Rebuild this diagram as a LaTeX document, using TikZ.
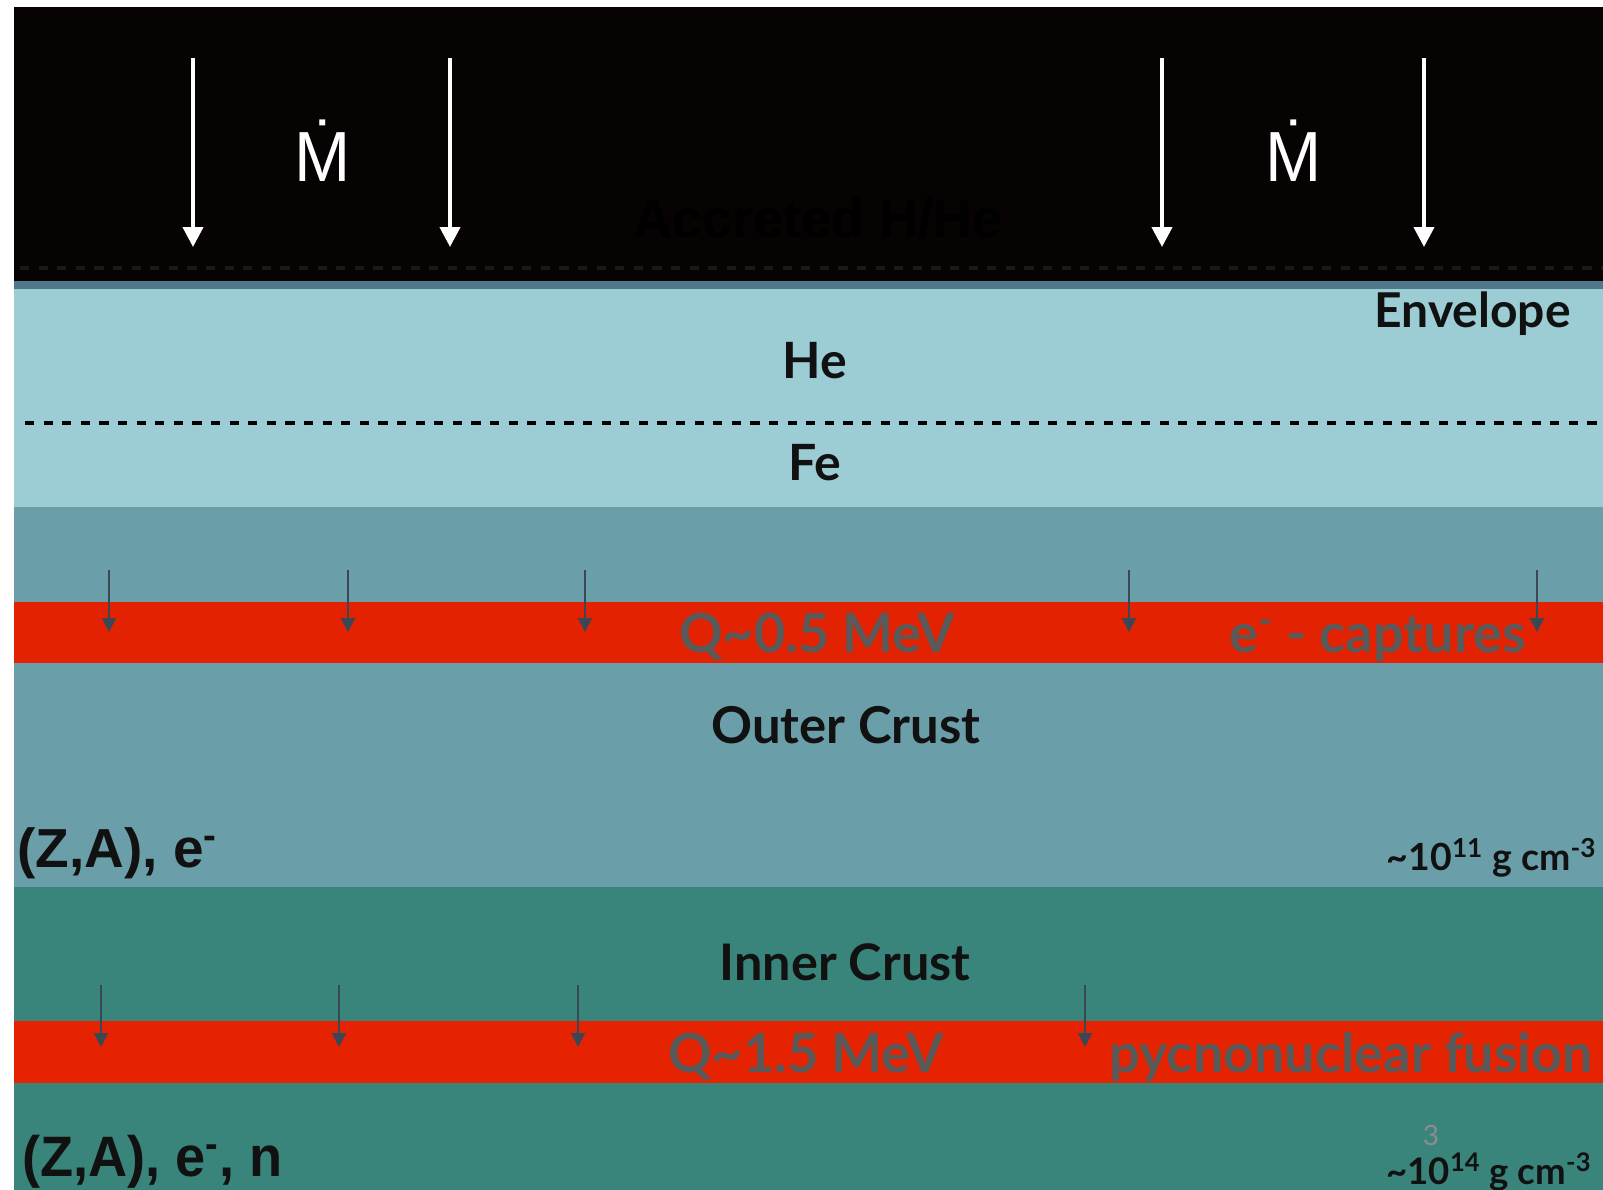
\documentclass[tikz,border=0pt]{standalone}
\usepackage{fontspec}
\setmainfont{Lato}
\newfontfamily\arialfont{Liberation Sans}
\usetikzlibrary{arrows.meta}

\definecolor{spaceblack}{RGB}{8,3,3}
\definecolor{accretedtext}{RGB}{0,0,0}
\definecolor{dotgray}{RGB}{26,24,24}
\definecolor{slatestripe}{RGB}{81,120,138}
\definecolor{envelopeblue}{RGB}{156,205,213}
\definecolor{outercrust}{RGB}{106,158,168}
\definecolor{innercrust}{RGB}{58,133,123}
\definecolor{heatred}{RGB}{226,34,0}
\definecolor{heatredlow}{RGB}{230,35,0}
\definecolor{arrowslate}{RGB}{58,72,85}
\definecolor{heattext}{RGB}{90,90,90}
\definecolor{labelblack}{RGB}{17,17,17}
\definecolor{pagegray}{RGB}{140,140,140}

\begin{document}
\begin{tikzpicture}[x=0.5pt,y=-0.5pt,
  inflow/.style={draw=white, line width=2pt, -{Triangle[width=10pt,length=10pt]}},
  sinkflow/.style={draw=arrowslate, line width=1pt, -{Triangle[width=7pt,length=7pt]}},
  layerlabel/.style={inner sep=0pt, text=labelblack, font=\bfseries\fontsize{25}{30}\selectfont},
  heatlabel/.style={inner sep=0pt, text=heattext, font=\bfseries\fontsize{27}{30}\selectfont},
  densitylabel/.style={inner sep=0pt, text=labelblack, font=\bfseries\fontsize{18.7}{22}\selectfont},
  mdot/.style={inner sep=0pt, anchor=base, text=white, font=\arialfont\fontsize{35.5}{40}\selectfont},
  boundary/.style={line width=2pt, dash pattern=on 4.6pt off 4.7pt},
]
% page frame
\fill[white] (0,0) rectangle (1603,1190);
\useasboundingbox (0,0) rectangle (1603,1190);

% layers, top to bottom
\fill[spaceblack]  (14,7)    rectangle (1603,281);
\fill[slatestripe] (14,281)  rectangle (1603,289);
\fill[envelopeblue](14,289)  rectangle (1603,507);
\fill[outercrust]  (14,507)  rectangle (1603,887);
\fill[heatred]     (14,602)  rectangle (1603,663);
\fill[innercrust]  (14,887)  rectangle (1603,1190);
\fill[heatredlow]  (14,1021) rectangle (1603,1083);

% layer boundaries
\coordinate (topdashL) at (20,268);
\coordinate (topdashR) at (1603,268);
\draw[boundary, dotgray] (topdashL) -- (topdashR);
\coordinate (hefeL) at (25,423);
\coordinate (hefeR) at (1603,423);
\draw[boundary, black] (hefeL) -- (hefeR);

% accreted matter
\node[inner sep=0pt, anchor=base, text=accretedtext,
      font=\arialfont\bfseries\fontsize{27}{30}\selectfont] (accreted) at (818,237) {Accreted H/He};

\foreach \n/\x in {1/193,2/450,3/1162,4/1424}{
  \coordinate (in\n s) at (\x,58);
  \coordinate (in\n e) at (\x,247);
  \draw[inflow] (in\n s) -- (in\n e);
}
\node[mdot] (mdotL) at (323,181) {\scalebox{0.95}[1]{\.{M}}};
\node[mdot] (mdotR) at (1294,181) {\scalebox{0.95}[1]{\.{M}}};

% envelope
\node[layerlabel, anchor=base east, font=\bfseries\fontsize{24}{28}\selectfont] (envelope) at (1571,327) {Envelope};
\node[layerlabel, anchor=base] (he) at (815,378) {He};
\node[layerlabel, anchor=base] (fe) at (815,480) {Fe};

% electron captures
\foreach \n/\x in {1/109,2/348,3/585,4/1129,5/1537}{
  \coordinate (ec\n s) at (\x,570);
  \coordinate (ec\n e) at (\x,632);
}
\node[heatlabel, anchor=base] (q1) at (817,652) {Q\textasciitilde0.5 MeV};
\node[heatlabel, anchor=base west] (captures) at (1229,652) {e\textsuperscript{-} - captures};
\foreach \n in {1,...,5}{ \draw[sinkflow] (ec\n s) -- (ec\n e); }

% outer crust
\node[layerlabel, anchor=base, font=\bfseries\fontsize{25.4}{28}\selectfont] (outer) at (846,743) {Outer Crust};
\node[inner sep=0pt, anchor=base west, text=labelblack, font=\arialfont\bfseries\fontsize{27.5}{30}\selectfont]
  (outercomp) at (17,867) {(Z,A), e\textsuperscript{-}};
\node[densitylabel, anchor=base east] (rho11) at (1597,870) {\textasciitilde10\textsuperscript{11} g cm\textsuperscript{-3}};

% inner crust
\node[layerlabel, anchor=base, font=\bfseries\fontsize{25.2}{28}\selectfont] (inner) at (845,980) {Inner Crust};
\foreach \n/\x in {1/101,2/339,3/578,4/1085}{
  \coordinate (pf\n s) at (\x,985);
  \coordinate (pf\n e) at (\x,1047);
}
\node[heatlabel, anchor=base] (q2) at (806,1072) {Q\textasciitilde1.5 MeV};
\node[heatlabel, anchor=base west] (pycno) at (1109,1072) {pycnonuclear fusion};
\foreach \n in {1,...,4}{ \draw[sinkflow] (pf\n s) -- (pf\n e); }

\node[inner sep=0pt, anchor=base, text=pagegray, font=\fontsize{14}{16}\selectfont] (pagenum) at (1431,1145) {3};
\node[inner sep=0pt, anchor=base west, text=labelblack, font=\arialfont\bfseries\fontsize{28.5}{30}\selectfont]
  (innercomp) at (22,1176) {\scalebox{0.95}[1]{(Z,A), e\textsuperscript{-}, n}};
\node[densitylabel, anchor=base east, font=\bfseries\fontsize{18.3}{22}\selectfont] (rho14) at (1592,1184) {\textasciitilde10\textsuperscript{14} g cm\textsuperscript{-3}};
\end{tikzpicture}
\end{document}
